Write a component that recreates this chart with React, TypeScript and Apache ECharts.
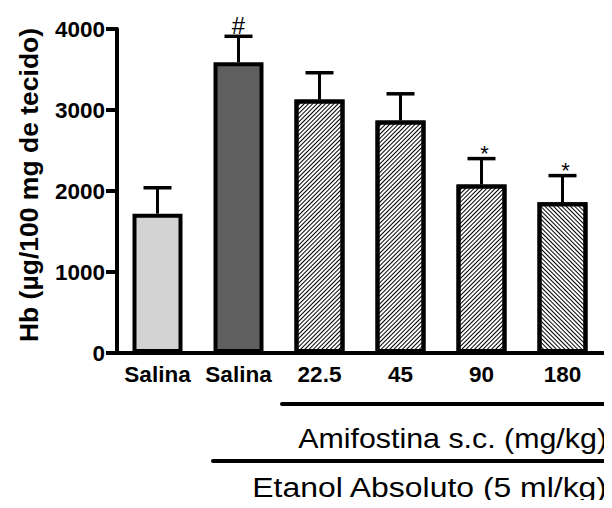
import React, { useEffect, useRef } from "react";
import * as echarts from "echarts";

const categories = ["Salina", "Salina", "22.5", "45", "90", "180"];
const means = [1720, 3590, 3130, 2870, 2080, 1860];
const upperErr = [2040, 3910, 3460, 3200, 2400, 2190];
const marks = ["", "#", "", "", "*", "*"];
const yTicks = { min: 0, max: 4000, interval: 1000 };
const groupLabels = ["Amifostina s.c. (mg/kg)", "Etanol Absoluto (5 ml/kg)"];

const FONT = "'Liberation Sans', Arial, Helvetica, sans-serif";

const hatchUp = {
  symbol: "rect",
  symbolSize: 1,
  color: "#000",
  dashArrayX: [1, 0],
  dashArrayY: [1, 2],
  rotation: -Math.PI / 4,
};
const hatchDown = { ...hatchUp, rotation: Math.PI / 4 };

const barStyles = [
  { color: "#d3d3d3" },
  { color: "#5f5f5f" },
  { color: "#fff", decal: hatchUp },
  { color: "#fff", decal: hatchUp },
  { color: "#fff", decal: hatchUp },
  { color: "#fff", decal: hatchDown },
];

export default function App() {
  const ref = useRef<HTMLDivElement>(null);
  useEffect(() => {
    if (!ref.current) return;
    const chart = echarts.init(ref.current, null, { renderer: "svg" });
    chart.setOption({
      animation: false,
      backgroundColor: "#fff",
      grid: { left: 117, right: 9, top: 29, bottom: 155, containLabel: false },
      xAxis: {
        type: "category",
        data: categories,
        axisLine: { lineStyle: { color: "#000", width: 4 } },
        axisTick: { alignWithLabel: true, length: 8, lineStyle: { color: "#000", width: 4 } },
        axisLabel: {
          interval: 0,
          color: "#000",
          fontWeight: "bold",
          fontSize: 22.5,
          fontFamily: FONT,
          margin: 10,
        },
      },
      yAxis: {
        type: "value",
        min: yTicks.min,
        max: yTicks.max,
        interval: yTicks.interval,
        splitLine: { show: false },
        axisLine: { show: true, lineStyle: { color: "#000", width: 4 } },
        axisTick: { show: true, length: 11, lineStyle: { color: "#000", width: 4 } },
        axisLabel: {
          color: "#000",
          fontWeight: "bold",
          fontSize: 22.5,
          fontFamily: FONT,
          margin: 12,
          formatter: (v: number) => String(v),
        },
      },
      series: [
        {
          type: "bar",
          barWidth: 50,
          data: means.map((v, i) => ({
            value: v,
            itemStyle: { ...barStyles[i], borderColor: "#000", borderWidth: 4 },
          })),
          z: 2,
        },
        {
          type: "custom",
          z: 3,
          data: means.map((v, i) => [i, v, upperErr[i]]),
          renderItem: (params: any, api: any) => {
            const i = api.value(0);
            const p0 = api.coord([i, api.value(1)]);
            const p1 = api.coord([i, api.value(2)]);
            const mark = marks[params.dataIndex];
            const children: any[] = [
              {
                type: "line",
                shape: { x1: p0[0], y1: p0[1], x2: p1[0], y2: p1[1] },
                style: { stroke: "#000", lineWidth: 3 },
              },
              {
                type: "line",
                shape: { x1: p1[0] - 14, y1: p1[1], x2: p1[0] + 14, y2: p1[1] },
                style: { stroke: "#000", lineWidth: 3.5 },
              },
            ];
            if (mark) {
              const isStar = mark === "*";
              children.push({
                type: "text",
                x: p1[0] + (isStar ? 3 : 0),
                y: p1[1] - (isStar ? 5 : 11),
                style: {
                  text: mark,
                  fontSize: isStar ? 22 : 24,
                  fontFamily: FONT,
                  fill: "#000",
                  align: "center",
                  verticalAlign: "middle",
                },
              });
            }
            return { type: "group", children };
          },
        },
      ],
      graphic: [
        {
          type: "text",
          x: 29,
          y: 185,
          rotation: Math.PI / 2,
          style: {
            text: "Hb (µg/100 mg de tecido)",
            fontSize: 26.5,
            fontWeight: "bold",
            fontFamily: FONT,
            fill: "#000",
            align: "center",
            verticalAlign: "middle",
          },
        },
        {
          type: "line",
          shape: { x1: 282, y1: 404, x2: 608, y2: 404 },
          style: { stroke: "#000", lineWidth: 4, lineCap: "round" },
        },
        {
          type: "line",
          shape: { x1: 213, y1: 461, x2: 620, y2: 461 },
          style: { stroke: "#000", lineWidth: 4, lineCap: "round" },
        },
        {
          type: "text",
          x: 607,
          y: 438,
          scaleX: 1.085,
          style: {
            text: groupLabels[0],
            fontSize: 28,
            fontFamily: FONT,
            fill: "#000",
            align: "right",
            verticalAlign: "middle",
          },
        },
        {
          type: "text",
          x: 607,
          y: 487,
          scaleX: 1.14,
          style: {
            text: groupLabels[1],
            fontSize: 28,
            fontFamily: FONT,
            fill: "#000",
            align: "right",
            verticalAlign: "middle",
          },
        },
      ],
    });
    return () => chart.dispose();
  }, []);
  return <div ref={ref} style={{ width: 612, height: 508, margin: -8 }} />;
}
